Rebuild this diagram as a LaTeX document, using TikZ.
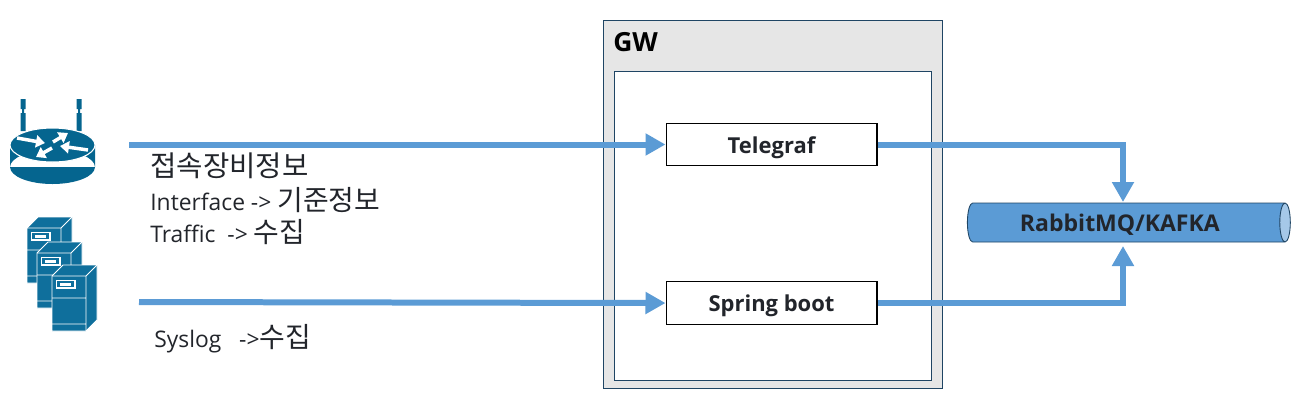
\documentclass[tikz,border=0pt]{standalone}
\usepackage{fontspec}
\setmainfont{Open Sans}
\newfontfamily\krfont{Noto Sans CJK KR}
\usetikzlibrary{arrows.meta,positioning,shapes.geometric}
\definecolor{flowblue}{HTML}{5B9BD5}
\definecolor{gwgray}{HTML}{E6E6E6}
\definecolor{gwline}{HTML}{1F4564}
\definecolor{routerblue}{HTML}{05658F}
\definecolor{serverblue}{HTML}{0F6F9C}
\definecolor{labeltext}{HTML}{22252B}
\begin{document}
\begin{tikzpicture}[
    x=0.02cm, y=-0.02cm,
    every node/.style={text=labeltext},
    frame/.style={draw=gwline, line width=0.5pt},
    module/.style={draw=black, fill=white, line width=0.6pt, minimum width=4.22cm, minimum height=0.85cm, text height=10pt, text depth=0pt, font=\fontsize{12.5}{14}\selectfont\bfseries},
    label/.style={anchor=west, inner sep=0pt, font=\fontsize{13}{15}\selectfont},
    flow/.style={-{Triangle[length=0.4cm, width=0.42cm]}, draw=flowblue, line width=0.12cm},
    spoke/.style={-{Triangle[length=0.18cm, width=0.24cm]}, draw=white, line width=0.07cm},
    serverbox/.pic={
        \fill[serverblue, draw=white, line width=0.5pt] (0,0) -- (11,-11) -- (45,-11) -- (45,44) -- (34,55) -- (0,55) -- cycle;
        \draw[white, line width=0.5pt] (0,0) -- (34,0) -- (45,-11) (34,0) -- (34,55) (0,22) -- (34,22) (0,48) -- (34,48);
        \draw[white, line width=0.6pt] (4.5,4.5) rectangle (23,12);
        \fill[white] (8,7) rectangle (19,9.5);
    }
]
\useasboundingbox (0,0) rectangle (1295,410);
% gateway frame
\node[frame, fill=gwgray, minimum width=6.78cm, minimum height=7.36cm] (gw) at (772.5,204) {};
\node[frame, fill=white, minimum width=6.34cm, minimum height=6.18cm] (gwinner) at (772.5,225.5) {};
\node[anchor=west, inner sep=0pt, font=\fontsize{15}{18}\selectfont\bfseries, text=black] (gwlabel) at (613,42) {GW};
% modules
\node[module] (telegraf) at (771.5,144.5) {Telegraf};
\node[module, below=2.3cm of telegraf] (spring) {Spring boot};
\node[cylinder, draw=gwline, line width=0.5pt, cylinder uses custom fill, cylinder body fill=flowblue, cylinder end fill=flowblue!55, shape aspect=0.6, minimum height=6.46cm, minimum width=0.78cm, inner sep=0pt, text height=10pt, text depth=0pt, font=\fontsize{13.1}{15}\selectfont\bfseries] (queue) at (1126,222.5) {RabbitMQ/KAFKA\kern 7pt};
% router
\fill[routerblue] (20.5,99) rectangle (25.5,109) (22,109) rectangle (24,113) (20.5,113) rectangle (25.5,131);
\fill[routerblue] (76.5,99) rectangle (81.5,109) (78,109) rectangle (80,113) (76.5,113) rectangle (81.5,131);
\fill[routerblue] (10,145) rectangle (95,167) (52.5,167) ellipse [x radius=42.5, y radius=17];
\draw[white, line width=0.6pt, fill=routerblue] (52.5,145) ellipse [x radius=42.5, y radius=17];
\draw[spoke] (17,138) -- (45,143);
\draw[spoke] (53,142) -- (68,133);
\draw[spoke] (88,150) -- (60,146);
\draw[spoke] (52,148) -- (36,157);
% servers
\pic at (27,228) {serverbox};
\pic at (37,253) {serverbox};
\pic at (52,276) {serverbox};
% labels
\node[label, font=\fontsize{16.3}{18}\selectfont\krfont] (accessinfo) at (150,166) {접속장비정보};
\node[label] (ifinfo) at (150,200) {Interface -> {\krfont\fontsize{15.9}{16}\selectfont 기준정보}};
\node[label] (trafficinfo) at (150,232) {Traffic~ -> {\krfont\fontsize{15.9}{16}\selectfont 수집}};
\node[label] (sysloginfo) at (154,339) {Syslog~~ ->{\krfont\fontsize{15.9}{16}\selectfont 수집}};
% flows
\coordinate (routerout) at (129,144.5);
\coordinate (serverout) at (139,302);
\coordinate (queuetop) at (1123,202);
\coordinate (queuebottom) at (1123,246);
\draw[flow] (routerout) -- (telegraf.west);
\draw[flow] (serverout) -- (spring.west);
\draw[flow] (telegraf.east) -| (queuetop);
\draw[flow] (spring.east) -| (queuebottom);
\end{tikzpicture}
\end{document}
